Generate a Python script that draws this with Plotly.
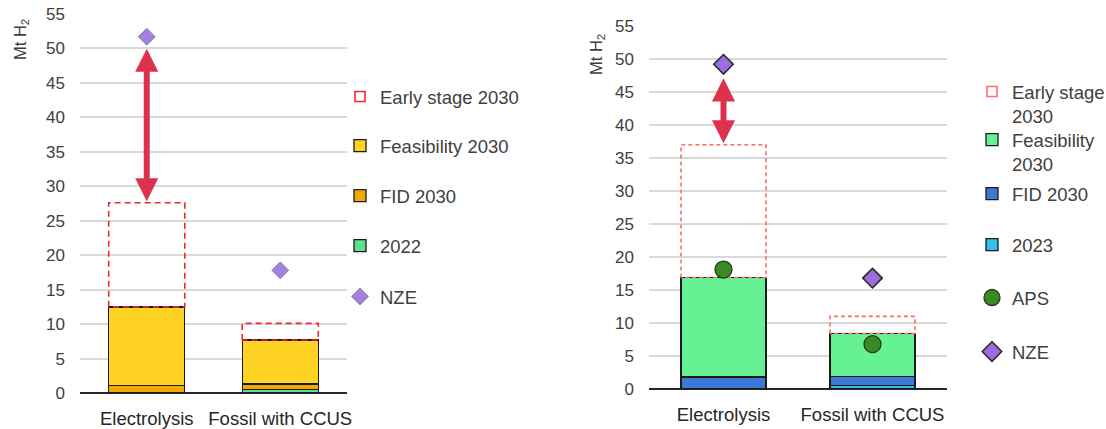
import plotly.graph_objects as go

# Categories
categories = ["Electrolysis", "Fossil with CCUS"]

# Left panel (Mt H2)
left_2022 = [0.0, 0.5]
left_fid = [1.1, 0.8]
left_feasibility = [11.4, 6.4]
left_early = [15.1, 2.4]
left_nze = [51.7, 17.8]

# Right panel (Mt H2)
right_2023 = [0.0, 0.5]
right_fid = [1.8, 1.4]
right_feasibility = [15.1, 6.5]
right_early = [20.1, 2.6]
right_aps = [18.1, 6.8]
right_nze = [49.2, 16.8]

y_ticks = list(range(0, 56, 5))

W, H = 1106, 429
FONT = "Liberation Sans, Arial, sans-serif"
TXT = "#404040"
LEG_FONT = 18.5
BAR_W = 0.57
pos = list(range(len(categories)))

fig = go.Figure()


def px_x(p):
    return p / W


def px_y(p):
    return 1 - p / H


legend_layouts = {}
leg_counter = [0]


def new_legend(x_px, y_px):
    leg_counter[0] += 1
    name = "legend" if leg_counter[0] == 1 else f"legend{leg_counter[0]}"
    legend_layouts[name] = dict(
        x=px_x(x_px), y=px_y(y_px), xanchor="left", yanchor="top",
        bgcolor="rgba(0,0,0,0)", borderwidth=0, valign="top",
        font=dict(family=FONT, size=LEG_FONT, color=TXT), itemclick=False,
        itemdoubleclick=False,
    )
    return name


def add_panel(xa, ya, stacks, early, markers, early_color, early_dash):
    legs = []
    # stacked bars
    for name, vals, color in stacks:
        fig.add_trace(go.Bar(
            x=pos, y=vals, width=BAR_W, name=name, xaxis=xa, yaxis=ya,
            marker=dict(color=color, line=dict(color="#1a1a1a", width=1.3)),
            hoverinfo="skip",
        ))
        legs.append(fig.data[-1])
    base = [sum(s[1][i] for s in stacks) for i in range(len(pos))]
    # dashed outline for early-stage projects, stacked on top of the bars
    for i, p in enumerate(pos):
        top = base[i] + early[i]
        fig.add_trace(go.Scatter(
            x=[p - BAR_W / 2, p - BAR_W / 2, p + BAR_W / 2, p + BAR_W / 2, p - BAR_W / 2],
            y=[base[i], top, top, base[i], base[i]],
            mode="lines", xaxis=xa, yaxis=ya, showlegend=False, hoverinfo="skip",
            line=dict(color=early_color, width=1.6, dash=early_dash),
        ))
    fig.add_trace(go.Scatter(
        x=[None], y=[None], mode="markers", name="Early stage 2030", xaxis=xa, yaxis=ya,
        marker=dict(symbol="square-open", size=10, color=early_color,
                    line=dict(width=1.6, color=early_color)),
    ))
    legs.append(fig.data[-1])
    for name, vals, mk in markers:
        fig.add_trace(go.Scatter(
            x=pos, y=vals, mode="markers", name=name, xaxis=xa, yaxis=ya,
            marker=mk, hoverinfo="skip",
        ))
        legs.append(fig.data[-1])
    return legs, base


# ---- left panel
left_legs, left_base = add_panel(
    "x", "y",
    [("2022", left_2022, "#5EE08E"),
     ("FID 2030", left_fid, "#F2A900"),
     ("Feasibility 2030", left_feasibility, "#FFD324")],
    left_early,
    [("NZE", left_nze, dict(symbol="diamond", size=13, color="#A57FE3",
                            line=dict(color="#8a8a8a", width=1)))],
    "#F0282E", "6px,4px",
)
left_order = ["Early stage 2030", "Feasibility 2030", "FID 2030", "2022", "NZE"]
left_leg_y = [97, 146, 196, 246, 297]
for nm, yc in zip(left_order, left_leg_y):
    tr = [t for t in left_legs if t.name == nm][0]
    tr.legend = new_legend(340, yc - 19)

# ---- right panel
right_legs, right_base = add_panel(
    "x2", "y2",
    [("2023", right_2023, "#33BDEB"),
     ("FID 2030", right_fid, "#3C78D8"),
     ("Feasibility 2030", right_feasibility, "#66F294")],
    right_early,
    [("APS", right_aps, dict(symbol="circle", size=17, color="#3A8B28",
                             line=dict(color="#1f3d14", width=1.3))),
     ("NZE", right_nze, dict(symbol="diamond", size=15, color="#9D6CE0",
                             line=dict(color="#2b2b2b", width=1.6)))],
    "#FF6B6B", "4px,3px",
)
right_order = ["Early stage 2030", "Feasibility 2030", "FID 2030", "2023", "APS", "NZE"]
right_names = {"Early stage 2030": "Early stage<br>2030",
               "Feasibility 2030": "Feasibility<br>2030"}
right_leg_y = [92, 140, 194, 245, 298, 352]
for nm, yc in zip(right_order, right_leg_y):
    tr = [t for t in right_legs if t.name == nm][0]
    tr.name = right_names.get(nm, nm)
    tr.legend = new_legend(972, yc - 19)

# double-headed arrows: gap between early-stage total and NZE
for xa, ya, base, early, nze, so in [("x", "y", left_base, left_early, left_nze, 12),
                                       ("x2", "y2", right_base, right_early, right_nze, 14)]:
    fig.add_annotation(
        x=pos[0], y=nze[0], ax=pos[0], ay=base[0] + early[0],
        xref=xa, yref=ya, axref=xa, ayref=ya, text="", showarrow=True,
        arrowhead=2, startarrowhead=2, arrowside="end+start",
        arrowwidth=6, arrowsize=0.77, startarrowsize=0.77,
        arrowcolor="#DC3250", standoff=so, startstandoff=0,
    )

# axis titles
for xp, yp in [(21, 40), (597, 55)]:
    fig.add_annotation(
        x=px_x(xp), y=px_y(yp), xref="paper", yref="paper", text="Mt H<sub>2</sub>",
        showarrow=False, textangle=-90, font=dict(family=FONT, size=16.5, color=TXT),
        xanchor="center", yanchor="middle",
    )

xaxis_common = dict(showgrid=False, zeroline=False, showline=False, ticks="",
                    fixedrange=True, automargin=False, range=[-0.5, 1.5],
                    tickvals=pos, ticktext=categories, ticklabelstandoff=12,
                    tickfont=dict(size=18.5, color="#262626"))
yaxis_common = dict(range=[0, 55], tickvals=y_ticks, showgrid=True, gridcolor="#D9D9D9",
                    gridwidth=1.5, zeroline=True, zerolinecolor="#262626",
                    zerolinewidth=1.5, tickfont=dict(size=17, color=TXT),
                    ticklabelstandoff=14, fixedrange=True, showline=False, ticks="",
                    automargin=False)
fig.update_layout(
    width=W, height=H, margin=dict(l=0, r=0, t=0, b=0, autoexpand=False),
    paper_bgcolor="white", plot_bgcolor="white", barmode="stack",
    font=dict(family=FONT, color=TXT),
    xaxis=dict(domain=[px_x(80), px_x(347)], anchor="y", **xaxis_common),
    yaxis=dict(domain=[px_y(393), px_y(14)], anchor="x", **yaxis_common),
    xaxis2=dict(domain=[px_x(649), px_x(947)], anchor="y2", **xaxis_common),
    yaxis2=dict(domain=[px_y(389), px_y(26)], anchor="x2", **yaxis_common),
    showlegend=True,
    **legend_layouts,
)

fig.write_html("out.html")
